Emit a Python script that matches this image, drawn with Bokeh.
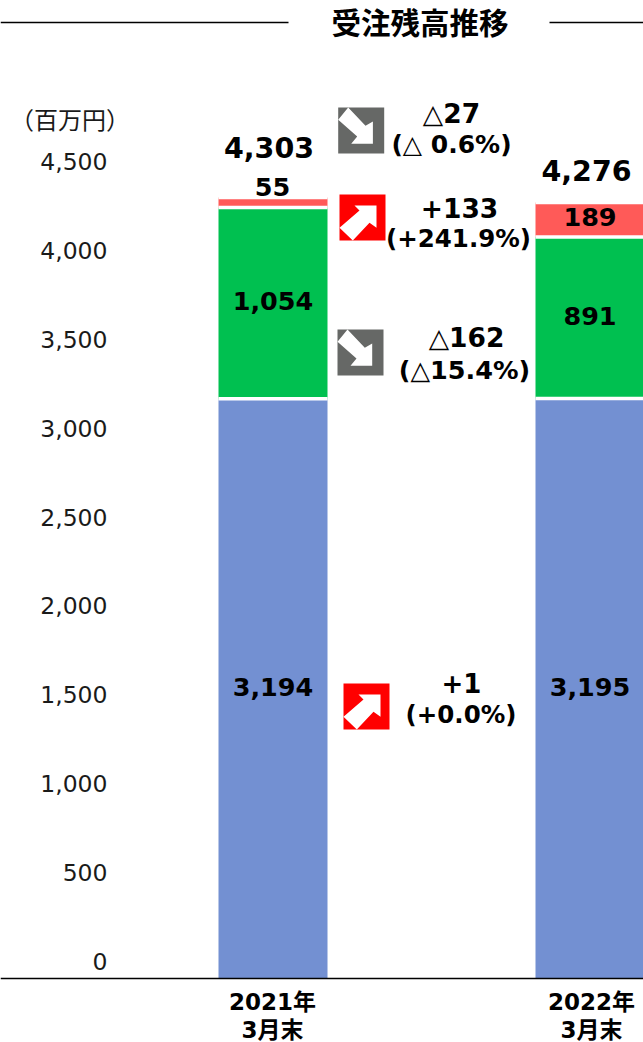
from bokeh.plotting import figure
from bokeh.models import Range1d
from bokeh.core.properties import value
from bokeh.embed import file_html
from bokeh.resources import INLINE

title = "受注残高推移"
unit_label = "（百万円）"
periods = ["2021年\n3月末", "2022年\n3月末"]
positions = [0, 1]
blue_vals = [3194, 3195]
green_vals = [1054, 891]
red_vals = [55, 189]
totals = [4303, 4276]
ticks = [0, 500, 1000, 1500, 2000, 2500, 3000, 3500, 4000, 4500]
tick_labels = ["0", "500", "1,000", "1,500", "2,000", "2,500", "3,000", "3,500", "4,000", "4,500"]
change_main = ["△27", "+133", "△162", "+1"]
change_pct = ["(△ 0.6%)", "(+241.9%)", "(△15.4%)", "(+0.0%)"]

W, H = 643, 1042
K = 0.1815
BASE = 978
UX = 317.0
X0 = 272.5

p = figure(width=W, height=H, output_backend="svg", toolbar_location=None,
           x_range=Range1d(-X0 / UX, (W - X0) / UX),
           y_range=Range1d((BASE - H) / K, BASE / K),
           min_border=0, outline_line_color=None, background_fill_color="white",
           border_fill_color="white")
p.axis.visible = False
p.grid.visible = False
p.extra_x_ranges["px"] = Range1d(0, W)
p.extra_y_ranges["px"] = Range1d(H, 0)
p.extra_y_ranges["ticks"] = Range1d((961 - H) / (800 / 4500), 961 / (800 / 4500))

FONT = value("DejaVu Sans, 'Noto Sans CJK JP'")
bw = 109 / UX

b0 = [0, 0]
b1 = [a + b for a, b in zip(blue_vals, green_vals)]
b2 = [a + b for a, b in zip(b1, red_vals)]
stack = [(b0, blue_vals, "#7390d2"), (blue_vals, b1, "#00c050"), (b1, b2, "#ff5a58")]
for bottom, top, col in stack:
    p.vbar(x=positions, bottom=bottom, top=top, width=bw, fill_color=col, line_color=None)
# white separator along the top of each segment, over all the bars
for bottom, top, col in stack:
    p.segment(x0=[x - bw / 2 for x in positions], x1=[x + bw / 2 for x in positions], y0=top, y1=top,
              line_color="white", line_width=3.5)

px = dict(x_range_name="px", y_range_name="px")

# baseline and title rules
p.line([0, W], [978, 978], line_color="black", line_width=1.5, **px)
for xs in ([0, 288], [549, W]):
    p.line(xs, [22, 22], line_color="black", line_width=1.5, **px)

# tick labels
p.text(x=[107] * len(ticks), y=ticks, text=tick_labels, x_range_name="px", y_range_name="ticks",
       text_align="right", text_baseline="middle", text_font=FONT, text_font_size="23.5px", text_color="#1a1a1a")
p.text(x=[69.5], y=[118], text=[unit_label], text_align="center", text_baseline="middle",
       text_font=value("Noto Sans CJK JP"), text_font_size="24px", text_color="#1a1a1a", **px)

def txt(x, y, s, size, **kw):
    p.text(x=x, y=y, text=s, text_align="center", text_baseline="middle", text_font=FONT,
           text_font_size=size, text_font_style="bold", text_color="black", **kw)

# value labels, placed at the segment mid-heights
mid_blue = [v / 2 for v in blue_vals]
txt(positions, mid_blue, [f"{v:,}" for v in blue_vals], "25.5px", y_offset=-2)
mid_green = [a + v / 2 for a, v in zip(blue_vals, green_vals)]
txt(positions, mid_green, [f"{v:,}" for v in green_vals], "25.5px", y_offset=-2)
txt([1], [b1[1] + red_vals[1] / 2], [f"{red_vals[1]:,}"], "25.5px", y_offset=-3)
txt([272], [186], [f"{red_vals[0]:,}"], "25.5px", **px)
txt([268.5, 586], [147, 170], [f"{v:,}" for v in totals], "28.5px", **px)

# title
p.text(x=[419.5], y=[20], text=[title], text_align="center", text_baseline="middle",
       text_font=value("Noto Sans CJK JP"), text_font_size="29.5px", text_font_style="bold",
       text_color="black", **px)

# period labels
txt([272, 591], [1001, 1001], [s.split("\n")[0] for s in periods], "23px", **px)
txt([272, 591], [1029, 1029], [s.split("\n")[1] for s in periods], "23px", **px)

# change annotations
main_x = [451, 459, 466, 461]
main_y = [113, 207, 337, 682]
main_size = ["26.5px", "26.5px", "26.5px", "26px"]
pct_x = [451, 458, 464, 460.5]
pct_y = [144, 238, 369, 714]
pct_size = ["25px", "24.5px", "25.5px", "24.5px"]
for i in range(4):
    txt([main_x[i]], [main_y[i]], [change_main[i]], main_size[i], **px)
    txt([pct_x[i]], [pct_y[i]], [change_pct[i]], pct_size[i], **px)

DOWN = [(10, 0), (27.3, 18.3), (34.7, 14), (34.7, 36.3), (13, 36.3), (19, 29), (0, 12.3)]
UP = [(37, 11), (15, 11), (20, 16), (0, 33.3), (13.3, 46), (30, 28.3), (37, 33.3)]
icons = [(337.7, 107, "#666866", DOWN), (339, 194, "#ff0000", UP),
         (337, 329, "#666866", DOWN), (343, 683, "#ff0000", UP)]
for x0, y0, col, shape in icons:
    p.quad(left=[x0], right=[x0 + 46], top=[y0], bottom=[y0 + 46], fill_color=col, line_color=None, **px)
    p.patch([x0 + a for a, b in shape], [y0 + b for a, b in shape], fill_color="white", line_color=None, **px)

open("out.html", "w").write(file_html(p, INLINE))
